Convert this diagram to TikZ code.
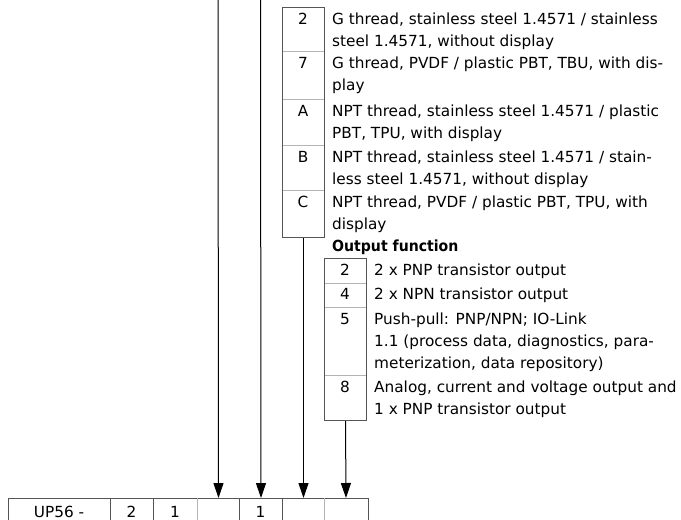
\documentclass[tikz,border=0pt]{standalone}
\usepackage{fontspec}
\setmainfont{DejaVu Sans}
\usetikzlibrary{arrows.meta}
\definecolor{bord}{HTML}{555555}
\definecolor{sep}{HTML}{B4B4B4}
\tikzset{
  txt/.style={anchor=base west, inner sep=0pt, font=\fontsize{15.3}{22}\selectfont},
  code/.style={anchor=base, inner sep=0pt, font=\fontsize{15.3}{22}\selectfont},
  box/.style={draw=bord, line width=1pt, anchor=north west, inner sep=0pt, minimum width=42pt},
  sepline/.style={draw=sep, line width=1pt},
  arr/.style={draw=black, line width=1pt, -{Triangle[length=15pt,width=10pt]}},
  cell/.style={draw=bord, line width=1pt, anchor=north west, inner sep=0pt, minimum height=40pt}
}
\begin{document}
\begin{tikzpicture}[x=1pt,y=-1pt]
\useasboundingbox (0,0) rectangle (681,520);
\clip (0,0) rectangle (681,520);
% ---- table 1 (process connection) ----
\node[box, minimum height=230pt] (t1) at (282,7) {};
\draw[sepline] (282.5,51) -- (323.5,51);
\draw[sepline] (282.5,99) -- (323.5,99);
\draw[sepline] (282.5,145) -- (323.5,145);
\draw[sepline] (282.5,190) -- (323.5,190);
\node[code] (a1) at (303,24) {2};
\node[code] (a2) at (303,68) {7};
\node[code] (a3) at (303,116) {A};
\node[code] (a4) at (303,162) {B};
\node[code] (a5) at (303,207) {C};
\node[txt] (b1) at (332,24) {G thread, stainless steel 1.4571 / stainless};
\node[txt] (b1b) at (332,46) {steel 1.4571, without display};
\node[txt] (b2) at (332,68) {G thread, PVDF / plastic PBT, TBU, with dis-};
\node[txt] (b2b) at (332,90) {play};
\node[txt] (b3) at (332,116) {NPT thread, stainless steel 1.4571 / plastic};
\node[txt] (b3b) at (332,138) {PBT, TPU, with display};
\node[txt] (b4) at (332,162) {NPT thread, stainless steel 1.4571 / stain-};
\node[txt] (b4b) at (332,184) {less steel 1.4571, without display};
\node[txt] (b5) at (332,207) {NPT thread, PVDF / plastic PBT, TPU, with};
\node[txt] (b5b) at (332,229) {display};
% ---- table 2 (output function) ----
\node[txt, font=\fontsize{15.3}{22}\selectfont\bfseries, xscale=0.92, transform shape] (h2) at (332,251) {Output function};
\node[box, minimum height=162pt] (t2) at (324,258) {};
\draw[sepline] (324.5,283) -- (365.5,283);
\draw[sepline] (324.5,307) -- (365.5,307);
\draw[sepline] (324.5,375) -- (365.5,375);
\node[code] (o1) at (345,275) {2};
\node[code] (o2) at (345,299) {4};
\node[code] (o3) at (345,324) {5};
\node[code] (o4) at (345,392) {8};
\node[txt] (p1) at (374,275) {2 x PNP transistor output};
\node[txt] (p2) at (374,299) {2 x NPN transistor output};
\node[txt] (p3) at (374,324) {Push-pull: PNP/NPN; IO-Link};
\node[txt] (p3b) at (374,346) {1.1 (process data, diagnostics, para-};
\node[txt] (p3c) at (374,368) {meterization, data repository)};
\node[txt] (p4) at (374,392) {Analog, current and voltage output and};
\node[txt] (p4b) at (374,414) {1 x PNP transistor output};
% ---- bottom type code ----
\node[cell, minimum width=102pt] (k1) at (8,498) {};
\node[cell, minimum width=43pt] (k2) at (110,498) {};
\node[cell, minimum width=44pt] (k3) at (153,498) {};
\node[cell, minimum width=42pt, draw=none] (k4) at (197,498) {};
\node[cell, minimum width=43pt] (k5) at (239,498) {};
\node[cell, minimum width=42pt, draw=none] (k6) at (282,498) {};
\node[cell, minimum width=43pt, draw=none] (k7) at (324,498) {};
\draw[bord, line width=1pt] (k4.south west) -- (k4.north west) -- (k7.north east) -- (k7.south east);
\draw[sepline] (k7.north west) -- (k7.south west);
\draw[sepline] (k4.north west) -- (k4.south west);
\draw[bord, line width=1pt] (k5.north west) -- (k5.south west) (k6.north west) -- (k6.south west);
\node[code] (u1) at (59,517) {UP56 -};
\node[code] (u2) at (131.5,517) {2};
\node[code] (u3) at (175,517) {1};
\node[code] (u5) at (260.5,517) {1};
% ---- connectors ----
\coordinate (s1) at (218,0);
\coordinate (s2) at (260.5,0);
\draw[arr] (s1) -- (k4.north);
\draw[arr] (s2) -- (k5.north);
\draw[arr] (t1.south) -- (k6.north);
\draw[arr] (t2.south) -- (k7.north);
\end{tikzpicture}
\end{document}
